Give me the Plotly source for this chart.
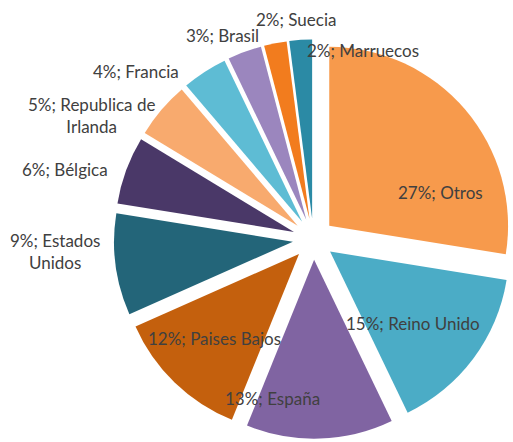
import plotly.graph_objects as go

W, H = 513, 442

paises = ["Otros", "Reino Unido", "España", "Paises Bajos", "Estados Unidos",
          "Bélgica", "Republica de Irlanda", "Francia", "Brasil", "Suecia", "Marruecos"]
etiquetas = ["Otros", "Reino Unido", "España", "Paises Bajos", "Estados<br>Unidos",
             "Bélgica", "Republica de<br>Irlanda", "Francia", "Brasil", "Suecia", "Marruecos"]
porcentajes = [27, 15, 13, 12, 9, 6, 5, 4, 3, 2, 2]
colores = ["#F79A4C", "#4BACC6", "#8064A2", "#C4600D", "#236579", "#4A3868",
           "#F8AA6E", "#5EBCD4", "#9B86BE", "#F27C1E", "#2B8AA5"]

# label centre positions (pixels from top-left), as placed in the original chart
etiqueta_x = [440, 413, 272, 214, 55, 65, 91, 136, 222, 296, 363]
etiqueta_y = [192, 323, 398, 338, 251, 170, 116, 72, 35, 20, 50]

fig = go.Figure(go.Pie(
    labels=paises,
    values=porcentajes,
    textinfo="none",
    sort=False,
    direction="clockwise",
    rotation=0,
    pull=0.116,
    marker=dict(colors=colores, line=dict(width=0)),
    showlegend=False,
    domain=dict(x=[0.222, 1], y=[0.002, 0.916]),
    hoverinfo="label+value",
))

for et, v, px, py in zip(etiquetas, porcentajes, etiqueta_x, etiqueta_y):
    fig.add_annotation(
        x=px / W, y=(H - py) / H, xref="paper", yref="paper",
        text=f"{v}%; {et}", showarrow=False,
        xanchor="center", yanchor="middle", align="center",
        font=dict(family="Lato", size=17, color="#404040"),
    )

fig.update_layout(
    width=W, height=H,
    margin=dict(l=0, r=0, t=0, b=0),
    paper_bgcolor="white",
    plot_bgcolor="white",
)

fig.write_html("out.html",
               config={"displayModeBar": False},
               post_script="document.body.style.margin='0';document.body.style.overflow='hidden';")
